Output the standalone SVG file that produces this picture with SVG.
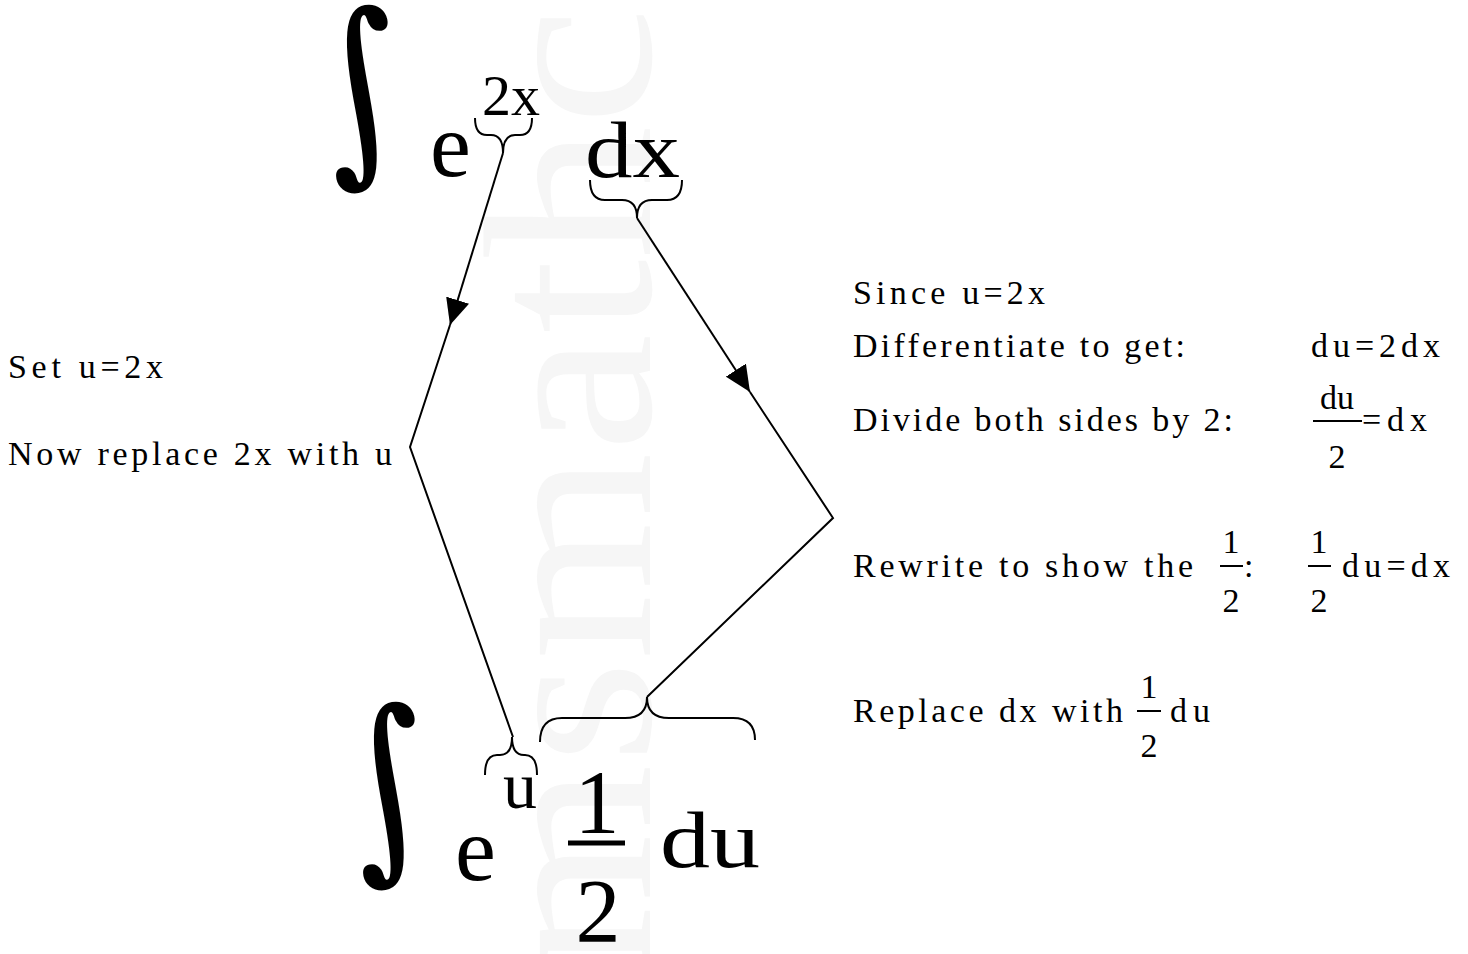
<svg xmlns="http://www.w3.org/2000/svg" width="1468" height="954" viewBox="0 0 1468 954">
<defs>
<style>
.t{font-family:"Liberation Serif","DejaVu Serif",serif;font-size:34px;fill:#000}
.m{font-family:"Liberation Serif","DejaVu Serif",serif;fill:#000}
.int{font-family:"DejaVu Serif",serif;font-size:190px;fill:#000}
.wm{font-family:"Liberation Serif","DejaVu Serif",serif;font-size:240px;fill:#f6f6f6}
.ln{fill:none;stroke:#000;stroke-width:2}
.br{fill:none;stroke:#000;stroke-width:2}
.bar{stroke:#000}
</style>
<marker id="arr" viewBox="0 0 26 24" refX="26" refY="12" markerWidth="26" markerHeight="24" markerUnits="userSpaceOnUse" orient="auto">
<path d="M0,0 L26,12 L0,24 Z" fill="#000"/>
</marker>
</defs>
<rect width="1468" height="954" fill="#fff"/>
<text class="wm" transform="translate(650,972) rotate(-90)" textLength="965" lengthAdjust="spacingAndGlyphs">msmathc</text>

<g id="top-formula">
<text class="int" transform="translate(328,157) scale(0.92,1.06) skewX(13)">∫</text>
<text class="m" x="430" y="176" font-size="92">e</text>
<text class="m" x="482" y="115" font-size="58" textLength="58" lengthAdjust="spacingAndGlyphs">2x</text>
<text class="m" x="585" y="177" font-size="80" textLength="95" lengthAdjust="spacingAndGlyphs">dx</text>
<path class="br" d="M475,118 Q475,135 487,135 L491,135 Q503,135 503,153 Q503,135 515,135 L520,135 Q532,135 532,118"/>
<path class="br" d="M590,180 Q590,200 605,200 L622,200 Q637,200 637,218 Q637,200 652,200 L667,200 Q682,200 682,180"/>
</g>

<g id="bottom-formula">
<text class="int" transform="translate(355,854) scale(0.92,1.06) skewX(13)">∫</text>
<text class="m" x="455" y="880" font-size="92">e</text>
<text class="m" x="503" y="808" font-size="66" textLength="34" lengthAdjust="spacingAndGlyphs">u</text>
<text class="m" x="597" y="833" font-size="90" text-anchor="middle">1</text>
<line class="bar" x1="568" y1="843" x2="625" y2="843" stroke-width="5"/>
<text class="m" x="598" y="942" font-size="90" text-anchor="middle">2</text>
<text class="m" x="660" y="867" font-size="80" textLength="100" lengthAdjust="spacingAndGlyphs">du</text>
<path class="br" d="M485,775 Q485,755 497,755 L500,755 Q512,755 512,737 Q512,755 524,755 L525,755 Q537,755 537,775"/>
<path class="br" d="M540,742 Q540,718 562,718 L625,718 Q647,718 647,697 Q647,718 669,718 L733,718 Q755,718 755,740"/>
</g>

<g id="left-notes">
<text class="t" x="8" y="378" textLength="155" lengthAdjust="spacing">Set u=2x</text>
<text class="t" x="8" y="465" textLength="384" lengthAdjust="spacing">Now replace 2x with u</text>
</g>

<g id="right-notes">
<text class="t" x="853" y="304" textLength="192" lengthAdjust="spacing">Since u=2x</text>
<text class="t" x="853" y="357" textLength="332" lengthAdjust="spacing">Differentiate to get:</text>
<text class="t" x="1311" y="357" textLength="129" lengthAdjust="spacing">du=2dx</text>
<text class="t" x="853" y="431" textLength="380" lengthAdjust="spacing">Divide both sides by 2:</text>
<text class="t" x="1337" y="409" text-anchor="middle">du</text>
<line class="bar" x1="1313" y1="421" x2="1362" y2="421" stroke-width="2"/>
<text class="t" x="1337" y="468" text-anchor="middle">2</text>
<text class="t" x="1362" y="431" textLength="65" lengthAdjust="spacing">=dx</text>
<text class="t" x="853" y="577" textLength="340" lengthAdjust="spacing">Rewrite to show the</text>
<text class="t" x="1231" y="553" text-anchor="middle">1</text>
<line class="bar" x1="1220" y1="566" x2="1243" y2="566" stroke-width="2"/>
<text class="t" x="1231" y="612" text-anchor="middle">2</text>
<text class="t" x="1244" y="577">:</text>
<text class="t" x="1319" y="553" text-anchor="middle">1</text>
<line class="bar" x1="1308" y1="566" x2="1331" y2="566" stroke-width="2"/>
<text class="t" x="1319" y="612" text-anchor="middle">2</text>
<text class="t" x="1342" y="577" textLength="108" lengthAdjust="spacing">du=dx</text>
<text class="t" x="853" y="722" textLength="270" lengthAdjust="spacing">Replace dx with</text>
<text class="t" x="1149" y="698" text-anchor="middle">1</text>
<line class="bar" x1="1137" y1="711" x2="1161" y2="711" stroke-width="2"/>
<text class="t" x="1149" y="757" text-anchor="middle">2</text>
<text class="t" x="1170" y="722" textLength="40" lengthAdjust="spacing">du</text>
</g>

<g id="connectors">
<path class="ln" d="M503,153 L450,325" marker-end="url(#arr)"/>
<path class="ln" d="M450,325 L410,447 L513,737"/>
<path class="ln" d="M637,218 L750,392" marker-end="url(#arr)"/>
<path class="ln" d="M750,392 L833,518 L647,697"/>
</g>
</svg>
